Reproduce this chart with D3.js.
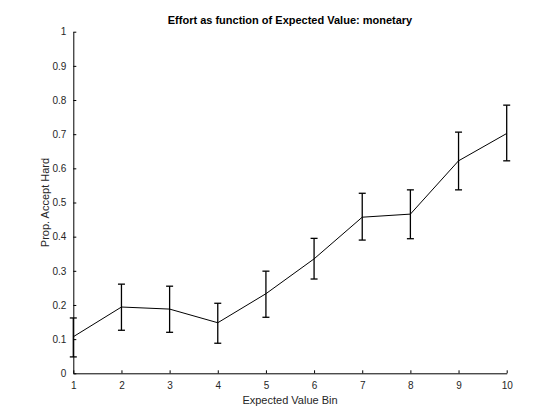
<!DOCTYPE html>
<html>
<head>
<meta charset="utf-8">
<script src="https://cdn.jsdelivr.net/npm/d3@7"></script>
<style>
  body { margin: 0; background: #fff; }
  svg { font-family: "Liberation Sans", Arial, Helvetica, sans-serif; }
</style>
</head>
<body>
<svg id="chart" width="560" height="420"></svg>
<script>
// Data
const bins = [1, 2, 3, 4, 5, 6, 7, 8, 9, 10];
const means = [0.107, 0.194, 0.188, 0.148, 0.233, 0.335, 0.457, 0.466, 0.622, 0.702];
const upper = [0.162, 0.261, 0.255, 0.205, 0.299, 0.395, 0.527, 0.537, 0.706, 0.785];
const lower = [0.048, 0.126, 0.120, 0.088, 0.164, 0.276, 0.390, 0.394, 0.537, 0.622];
const yTicks = [0, 0.1, 0.2, 0.3, 0.4, 0.5, 0.6, 0.7, 0.8, 0.9, 1];

const svg = d3.select("#chart");
const margin = { left: 73.3, right: 560 - 506.7, top: 31.7, bottom: 420 - 373.3 };
const width = 560 - margin.left - margin.right;
const height = 420 - margin.top - margin.bottom;

const g = svg.append("g").attr("transform", `translate(${margin.left},${margin.top})`);

const x = d3.scaleLinear().domain([1, 10]).range([0, width]);
const y = d3.scaleLinear().domain([0, 1]).range([height, 0]);

// Axes: ticks point inward like MATLAB
const xAxis = g.append("g")
  .attr("transform", `translate(0,${height})`)
  .call(d3.axisBottom(x).tickValues(bins).tickFormat(d3.format("d")).tickSizeInner(-3).tickSizeOuter(0).tickPadding(9));
const yAxis = g.append("g")
  .call(d3.axisLeft(y).tickValues(yTicks).tickFormat(d => d === 0 || d === 1 ? d : d3.format(".1f")(d)).tickSizeInner(-3).tickSizeOuter(0).tickPadding(7));

[xAxis, yAxis].forEach(a => {
  a.select(".domain").attr("stroke", "#000").attr("stroke-width", 1);
  a.selectAll(".tick line").attr("stroke", "#000");
  a.selectAll(".tick text").attr("font-size", 10).attr("fill", "#262626");
});

// Mean line
const line = d3.line().x((d, i) => x(bins[i])).y(d => y(d));
g.append("path")
  .datum(means)
  .attr("fill", "none")
  .attr("stroke", "#000")
  .attr("stroke-width", 1)
  .attr("d", line);

// Error bars
const capW = 3.5;
const bars = g.append("g").selectAll("g").data(bins).join("g")
  .attr("stroke", "#000").attr("stroke-width", 1.3);
bars.append("line")
  .attr("x1", d => x(d)).attr("x2", d => x(d))
  .attr("y1", (d, i) => y(upper[i])).attr("y2", (d, i) => y(lower[i]));
bars.append("line")
  .attr("x1", d => x(d) - capW).attr("x2", d => x(d) + capW)
  .attr("y1", (d, i) => y(upper[i])).attr("y2", (d, i) => y(upper[i]));
bars.append("line")
  .attr("x1", d => x(d) - capW).attr("x2", d => x(d) + capW)
  .attr("y1", (d, i) => y(lower[i])).attr("y2", (d, i) => y(lower[i]));

// Title and labels
svg.append("text")
  .attr("x", margin.left + width / 2).attr("y", 24)
  .attr("text-anchor", "middle")
  .attr("font-size", 11).attr("font-weight", "bold")
  .text("Effort as function of Expected Value: monetary");

svg.append("text")
  .attr("x", margin.left + width / 2).attr("y", 404)
  .attr("text-anchor", "middle")
  .attr("font-size", 11).attr("fill", "#262626")
  .text("Expected Value Bin");

svg.append("text")
  .attr("transform", `translate(49,${margin.top + height / 2}) rotate(-90)`)
  .attr("text-anchor", "middle")
  .attr("font-size", 11).attr("fill", "#262626")
  .text("Prop. Accept Hard");
</script>
</body>
</html>
